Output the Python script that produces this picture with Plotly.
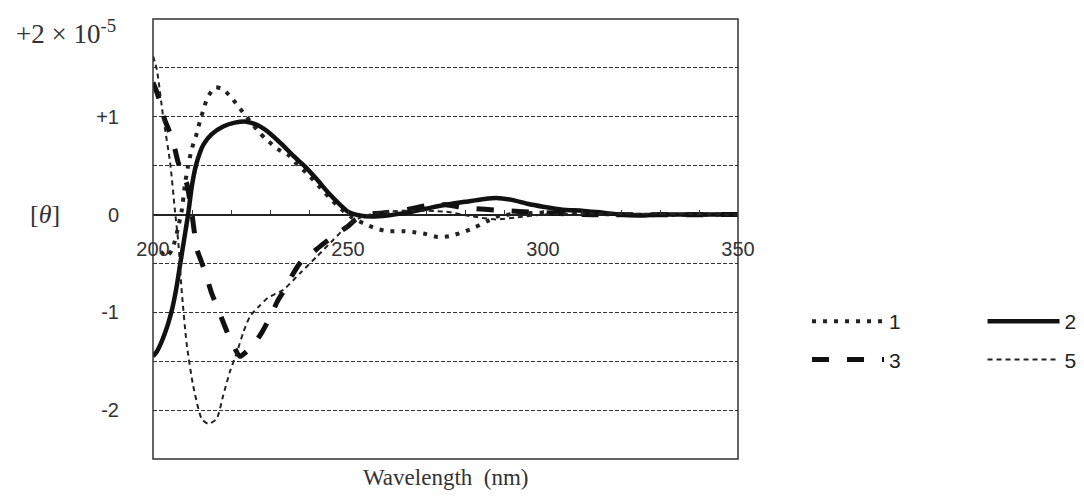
import plotly.graph_objects as go

# ---- data (values in units of 10^-5) ----
wl_1 = [202, 203.5, 205, 206.5, 207.4, 208.2, 209, 210, 211, 212, 213, 214, 216, 218, 220, 222, 224, 227, 229,
        232, 235, 237, 240, 243, 246, 249, 251, 254, 257, 260, 264, 267, 270, 273, 276, 279.5, 282.6, 285.6,
        289, 295, 300, 310, 320, 350]
th_1 = [-0.38, -0.43, -0.35, -0.12, 0.05, 0.31, 0.5, 0.68, 0.8, 0.95, 1.08, 1.2, 1.3, 1.28, 1.2, 1.1, 1.0, 0.85, 0.77,
        0.67, 0.6, 0.51, 0.4, 0.27, 0.14, 0.03, -0.03, -0.09, -0.14, -0.17, -0.17, -0.18, -0.2, -0.23, -0.22, -0.18,
        -0.13, -0.07, -0.01, 0.01, 0.02, 0.01, 0.0, 0.0]

wl_2 = [200, 201, 202, 203, 204, 205, 206, 207, 208, 209, 210, 211, 212, 213, 215, 218, 221, 224, 227, 230, 233,
        236, 239, 242, 245, 248, 250, 253, 256, 260, 265, 270, 275, 280, 285, 288, 292, 296, 300, 305, 310, 315,
        320, 325, 330, 340, 350]
th_2 = [-1.45, -1.40, -1.32, -1.22, -1.10, -0.95, -0.75, -0.5, -0.25, 0.0, 0.3, 0.5, 0.63, 0.72, 0.82, 0.9, 0.94,
        0.95, 0.91, 0.83, 0.72, 0.6, 0.49, 0.36, 0.22, 0.1, 0.03, -0.01, -0.02, -0.01, 0.02, 0.06, 0.1, 0.13, 0.16,
        0.17, 0.15, 0.11, 0.08, 0.05, 0.04, 0.02, 0.0, -0.01, 0.0, 0.0, 0.0]

wl_3 = [200, 201, 202, 203, 204, 205, 206.4, 207.5, 208.7, 210, 211.3, 212.3, 213.3, 215, 217, 219, 220.5, 222.3,
        224, 226, 228, 230, 232, 234, 236, 238, 240, 243, 245, 247, 250, 252, 255, 260, 265, 270, 275, 280, 290,
        300, 310, 350]
th_3 = [1.35, 1.25, 1.12, 0.97, 0.87, 0.77, 0.54, 0.42, 0.31, 0.0, -0.36, -0.47, -0.58, -0.8, -1.0, -1.2, -1.33,
        -1.45, -1.4, -1.32, -1.2, -1.05, -0.88, -0.75, -0.6, -0.48, -0.42, -0.32, -0.26, -0.2, -0.12, -0.05, 0.0,
        0.02, 0.05, 0.09, 0.1, 0.07, 0.04, 0.02, 0.0, 0.0]

wl_5 = [200, 201, 202.6, 204.4, 205.6, 206.5, 207.4, 208.6, 210.3, 212.5, 214.2, 216.3, 218, 219.7, 221.5, 223.2,
        224.9, 227.4, 229.5, 233.4, 237.7, 242, 246.2, 250.5, 253.8, 258, 265, 275, 282, 288, 293, 300, 310, 350]
th_5 = [1.62, 1.48, 1.0, 0.53, 0.05, -0.29, -0.8, -1.31, -1.75, -2.09, -2.14, -2.09, -1.85, -1.61, -1.41, -1.2,
        -1.04, -0.93, -0.85, -0.77, -0.6, -0.43, -0.26, -0.09, -0.02, 0.02, 0.04, 0.03, -0.02, -0.05, -0.03, 0.0,
        0.01, 0.0]

x_tickvals = list(range(200, 351, 10))
x_ticktext = [str(v) if v % 50 == 0 else "" for v in x_tickvals]
y_tickvals = [-2, -1, 0, 1]
y_ticktext = ["-2", "-1", "0", "+1"]

SANS = "Liberation Sans Narrow, Liberation Sans, Arial, sans-serif"
SERIF = "Liberation Serif, Times New Roman, serif"

fig = go.Figure()
fig.add_trace(go.Scatter(x=wl_1, y=th_1, name="1", mode="lines", line=dict(color="#222", width=4, dash="4px,7px", shape="spline", smoothing=0.6),
                         legend="legend", legendgroup="g1"))
fig.add_trace(go.Scatter(x=wl_3, y=th_3, name="3", mode="lines", line=dict(color="#111", width=5, dash="17px,18px", shape="spline", smoothing=0.6),
                         legend="legend", legendgroup="g3"))
fig.add_trace(go.Scatter(x=wl_2, y=th_2, name="2", mode="lines", line=dict(color="#111", width=4.5, shape="spline", smoothing=0.6),
                         legend="legend2", legendgroup="g2"))
fig.add_trace(go.Scatter(x=wl_5, y=th_5, name="5", mode="lines", line=dict(color="#222", width=2, dash="5px,4px", shape="spline", smoothing=0.6),
                         legend="legend2", legendgroup="g5"))

legend_common = dict(
    font=dict(family=SANS, size=21, color="#222"),
    itemwidth=72, tracegroupgap=8, bgcolor="rgba(0,0,0,0)",
    yanchor="top", xanchor="left", orientation="v",
)

# page body adds an 8px offset, so the figure is 8px smaller and margins shifted
fig.update_layout(
    width=1076, height=489,
    margin=dict(l=145, r=346, t=11, b=38, autoexpand=False),
    paper_bgcolor="white", plot_bgcolor="white",
    showlegend=True,
    legend=dict(x=1.118, y=0.359, **legend_common),
    legend2=dict(x=1.418, y=0.359, **legend_common),
    xaxis=dict(
        range=[200, 350], anchor="free", position=2.5 / 4.5,
        tickvals=x_tickvals, ticktext=x_ticktext,
        ticks="inside", ticklen=5, tickcolor="#333", tickwidth=1,
        ticklabelstandoff=20,
        showgrid=False, zeroline=False, showline=False,
        tickfont=dict(family=SANS, size=20, color="#333"),
    ),
    yaxis=dict(
        range=[-2.5, 2],
        tickvals=y_tickvals, ticktext=y_ticktext,
        ticks="", ticklabelstandoff=33,
        showgrid=True, gridcolor="#333", gridwidth=1, griddash="4px,2px",
        minor=dict(dtick=0.5, tick0=0, showgrid=True, gridcolor="#333", gridwidth=1, griddash="4px,2px"),
        zeroline=True, zerolinecolor="#222", zerolinewidth=1.5,
        showline=False,
        tickfont=dict(family=SANS, size=20, color="#333"),
    ),
    shapes=[dict(type="rect", xref="paper", yref="paper", x0=0, x1=1, y0=0, y1=1,
                 line=dict(color="#333", width=1.5), layer="above")],
    annotations=[
        dict(text="+2 × 10<sup>-5</sup>", xref="paper", yref="y", x=-0.06, y=2, yshift=-13,
             xanchor="right", yanchor="middle", showarrow=False,
             font=dict(family=SERIF, size=27, color="#333")),
        dict(text="[<i>θ</i>]", xref="paper", yref="y", x=-0.185, y=0, xanchor="center", yanchor="middle",
             showarrow=False, font=dict(family=SERIF, size=26, color="#333")),
        dict(text="Wavelength  (nm)", xref="paper", yref="paper", x=0.5, y=-0.01, xanchor="center", yanchor="top",
             showarrow=False, font=dict(family=SERIF, size=23, color="#333")),
    ],
)

fig.write_html("out.html")
